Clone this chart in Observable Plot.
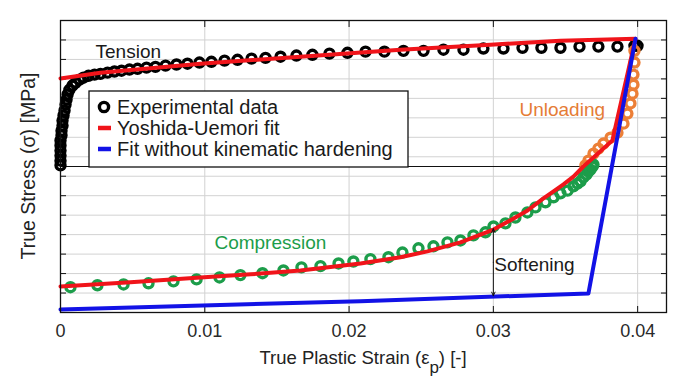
<!DOCTYPE html>
<html><head><meta charset="utf-8">
<script src="https://cdn.jsdelivr.net/npm/d3@7"></script>
<script src="https://cdn.jsdelivr.net/npm/@observablehq/plot@0.6"></script>
<style>
html,body{margin:0;padding:0;background:#fff;}
#chart{width:700px;height:381px;overflow:hidden;}
</style></head><body><div id="chart"></div>
<script>
// ---- Experimental data: tension (black circles)
const tensionStrain = [0, 0, 0, 0, 0, 0, 0.00007, 0.00007, 0.00014, 0.00014, 0.00021, 0.00028, 0.00035, 0.00042, 0.00049, 0.00062, 0.00083, 0.00104, 0.00132, 0.00159, 0.00194, 0.00236, 0.00277, 0.00326, 0.00374, 0.00423, 0.00478, 0.00534, 0.00596, 0.00658, 0.00728, 0.00804, 0.00880, 0.00963, 0.01046, 0.01137, 0.01227, 0.01324, 0.01421, 0.01525, 0.01635, 0.01746, 0.01864, 0.01989, 0.02114, 0.02245, 0.02377, 0.02516, 0.02654, 0.02793, 0.02931, 0.03070, 0.03202, 0.03333, 0.03465, 0.03597, 0.03728, 0.03860, 0.03978, 0.03999];
const tensionStress = [3, 15, 28, 41, 54, 67, 80, 92, 105, 118, 131, 144, 159, 172, 185, 197, 208, 215, 223, 228, 233, 236, 238, 241, 244, 246, 249, 251, 254, 256, 259, 262, 264, 267, 269, 272, 274, 277, 279, 282, 285, 287, 290, 292, 295, 295, 297, 297, 300, 300, 303, 303, 305, 305, 305, 308, 308, 308, 310, 310];

// ---- Experimental data: unloading (orange circles)
const unloadStrain = [0.03978, 0.03978, 0.03971, 0.03971, 0.03964, 0.03950, 0.03929, 0.03902, 0.03860, 0.03812, 0.03763, 0.03728, 0.03694, 0.03659, 0.03638];
const unloadStress = [297, 267, 236, 210, 187, 162, 136, 110, 87, 74, 59, 46, 33, 15, 3];

// ---- Experimental data: compression (green circles)
const compStrain = [0.00069, 0.00256, 0.00437, 0.00610, 0.00783, 0.00943, 0.01102, 0.01247, 0.01400, 0.01545, 0.01670, 0.01802, 0.01927, 0.02030, 0.02148, 0.02273, 0.02370, 0.02481, 0.02585, 0.02682, 0.02772, 0.02862, 0.02945, 0.03001, 0.03084, 0.03153, 0.03236, 0.03292, 0.03361, 0.03417, 0.03465, 0.03514, 0.03555, 0.03583, 0.03604, 0.03624, 0.03645, 0.03659, 0.03673, 0.03687, 0.03694];
const compStress = [-310, -305, -303, -300, -295, -290, -285, -279, -274, -267, -259, -256, -249, -244, -238, -233, -221, -210, -205, -195, -190, -177, -169, -154, -146, -131, -118, -105, -92, -79, -69, -62, -51, -44, -38, -28, -21, -13, -8, 0, 5];

// ---- Yoshida-Uemori fit (red), in path order
const yuStrain = [0, 0.00277, 0.00970, 0.01663, 0.02356, 0.02980, 0.03465, 0.03985, 0.03825, 0.03756, 0.03694, 0.03624, 0.03555, 0.03486, 0.03417, 0.03347, 0.03237, 0.03119, 0.03001, 0.02772, 0.02543, 0.02356, 0.02079, 0.01663, 0.01317, 0.00970, 0.00485, 0];
const yuStress = [226, 241, 264, 282, 300, 313, 323, 328, 67, 44, 23, 0, -26, -46, -64, -82, -113, -138, -162, -195, -218, -233, -249, -267, -277, -285, -297, -308];

// ---- Fit without kinematic hardening (blue), in path order
const isoStrain = [0.03985, 0.03659, 0.02079, 0];
const isoStress = [328, -326, -346, -367];

// ---- Axes
const xTicks = [0, 0.01, 0.02, 0.03, 0.04];
const xTickLabels = ["0", "0.01", "0.02", "0.03", "0.04"];
const yTicks = [-325, -275, -225, -175, -125, -75, -25, 25, 75, 125, 175, 225, 275, 325];
const xTitleMain = "True Plastic Strain (ε";
const xTitleSub = "p";
const xTitleEnd = ") [-]";
const yTitle = "True Stress (σ) [MPa]";

// ---- Annotations
const noteText = ["Tension", "Unloading", "Compression", "Softening"];
const noteStrain = [0.00236, 0.03174, 0.0106, 0.03];
const noteStress = [295, 146, -197, -254];
const noteColor = ["#1a1a1a", "#e57c35", "#1c9d4a", "#1a1a1a"];
const softeningStrain = 0.03;
const softeningFrom = -160;
const softeningTo = -332;

// ---- Legend
const legendLabels = ["Experimental data", "Yoshida-Uemori fit", "Fit without kinematic hardening"];

const zip = (xs, ys) => xs.map((x, i) => ({x, y: ys[i]}));
const tension = zip(tensionStrain, tensionStress);
const unload = zip(unloadStrain, unloadStress);
const comp = zip(compStrain, compStress);
const yu = zip(yuStrain, yuStress);
const iso = zip(isoStrain, isoStress);
const notes = noteText.map((t, i) => ({t, x: noteStrain[i], y: noteStress[i], c: noteColor[i]}));
const softMid = (softeningFrom + softeningTo) / 2;
const arrows = [{x: softeningStrain, y1: softMid, y2: softeningFrom}, {x: softeningStrain, y1: softMid, y2: softeningTo}];

const RED = "#f0141a", BLUE = "#1212e6", GREEN = "#1c9d4a", ORANGE = "#ec7f37";
const font = "'Liberation Sans', Arial, Helvetica, sans-serif";

const plot = Plot.plot({
  width: 700, height: 381,
  marginLeft: 60, marginRight: 34, marginTop: 20, marginBottom: 69,
  style: {fontFamily: font, background: "white", overflow: "visible"},
  x: {domain: [0, 0.042]},
  y: {domain: [-375, 375]},
  marks: [
    Plot.gridX(xTicks.slice(1), {stroke: "#d2d2d2", strokeOpacity: 1, strokeWidth: 1}),
    Plot.gridY(yTicks, {stroke: "#d2d2d2", strokeOpacity: 1, strokeWidth: 1}),
    Plot.ruleY([0], {stroke: "#111", strokeWidth: 1.2}),
    Plot.axisX(xTicks, {anchor: "bottom", tickSize: -6, tickFormat: () => "", label: null, stroke: "#111"}),
    Plot.axisX(xTicks, {anchor: "top", tickSize: -6, tickFormat: () => "", label: null, stroke: "#111"}),
    Plot.axisX(xTicks, {anchor: "bottom", tickSize: 0, tickPadding: 12, tickFormat: d => xTickLabels[xTicks.indexOf(d)], fontSize: 18, fill: "#2a2a2a", label: null}),
    Plot.axisY(yTicks, {anchor: "left", tickSize: -6, tickFormat: () => "", label: null, stroke: "#111"}),
    Plot.axisY(yTicks, {anchor: "right", tickSize: -6, tickFormat: () => "", label: null, stroke: "#111"}),
    Plot.dot(tension, {x: "x", y: "y", r: 4.5, stroke: "#000", strokeWidth: 3.4, fill: "none"}),
    Plot.dot(unload, {x: "x", y: "y", r: 4.5, stroke: ORANGE, strokeWidth: 3.4, fill: "none"}),
    Plot.dot(comp, {x: "x", y: "y", r: 4.5, stroke: GREEN, strokeWidth: 3.4, fill: "none"}),
    Plot.line(yu, {x: "x", y: "y", stroke: RED, strokeWidth: 4, curve: "linear", strokeLinejoin: "round"}),
    Plot.line(iso, {x: "x", y: "y", stroke: BLUE, strokeWidth: 4, curve: "linear"}),
    Plot.arrow(arrows, {x1: "x", x2: "x", y1: "y1", y2: "y2", stroke: "#111", strokeWidth: 1, headLength: 6, headAngle: 50}),
    Plot.text(notes, {x: "x", y: "y", text: "t", fill: "c", fontSize: 19, textAnchor: "start", dx: 1}),
    Plot.frame({stroke: "#111", strokeWidth: 1.3})
  ]
});

const svg = d3.select(plot);
const xs = plot.scale("x");
const ys = plot.scale("y");
const cx = (xs.range[0] + xs.range[1]) / 2;
const cy = (ys.range[0] + ys.range[1]) / 2;

// x title with subscript
const title = svg.append("text").attr("x", cx).attr("y", 364).attr("text-anchor", "middle")
  .attr("font-size", 18.5).attr("fill", "#222").attr("font-family", font);
title.append("tspan").text(xTitleMain);
title.append("tspan").attr("dy", 9).attr("font-size", 17).text(xTitleSub);
title.append("tspan").attr("dy", -9).text(xTitleEnd);

// y title
svg.append("text").attr("transform", `translate(28,${cy}) rotate(-90)`).attr("text-anchor", "middle")
  .attr("dy", "0.35em").attr("font-size", 19.5).attr("fill", "#222").attr("font-family", font).text(yTitle);

// legend box
const lg = svg.append("g").attr("transform", "translate(89,91)").attr("font-family", font);
lg.append("rect").attr("width", 319).attr("height", 76).attr("fill", "white").attr("stroke", "#111").attr("stroke-width", 1.3);
const rowY = [16, 37, 58];
lg.append("circle").attr("cx", 15).attr("cy", rowY[0]).attr("r", 4.6).attr("fill", "none").attr("stroke", "#000").attr("stroke-width", 3.4);
lg.append("line").attr("x1", 9).attr("x2", 22).attr("y1", rowY[1]).attr("y2", rowY[1]).attr("stroke", RED).attr("stroke-width", 4.5);
lg.append("line").attr("x1", 9).attr("x2", 22).attr("y1", rowY[2]).attr("y2", rowY[2]).attr("stroke", BLUE).attr("stroke-width", 4.5);
legendLabels.forEach((t, i) => {
  lg.append("text").attr("x", 28).attr("y", rowY[i]).attr("dy", "0.35em").attr("text-anchor", "start")
    .attr("font-size", 20).attr("fill", "#1a1a1a").text(t);
});

document.getElementById("chart").appendChild(plot);
</script></body></html>
